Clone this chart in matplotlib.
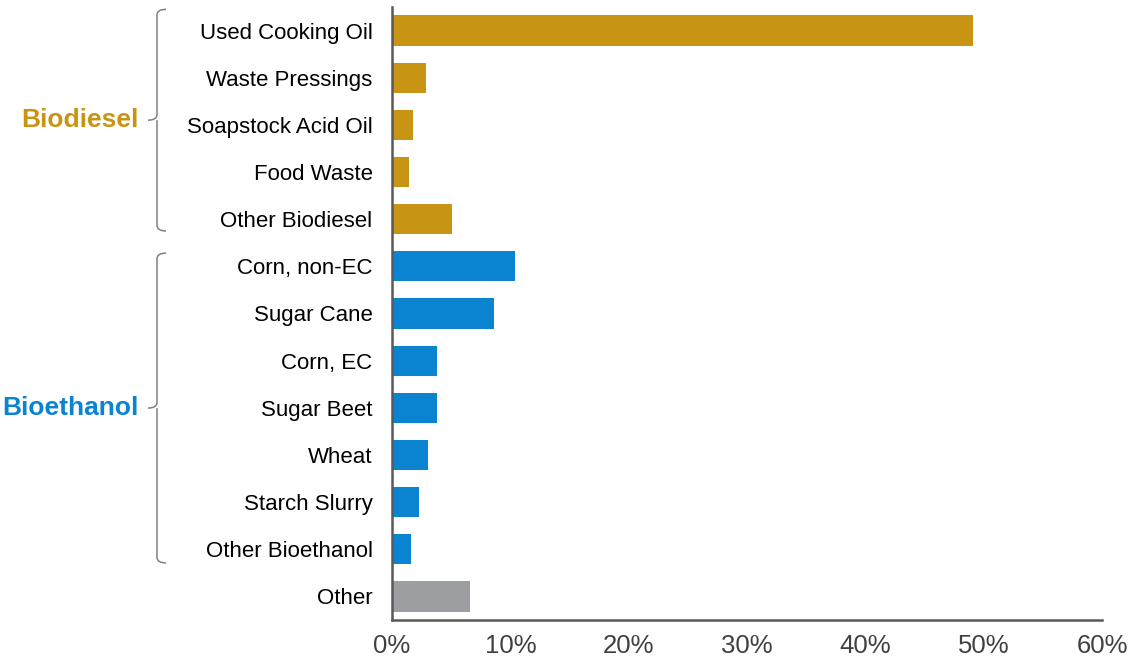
import matplotlib
matplotlib.use("Agg")
import matplotlib.pyplot as plt
import matplotlib.transforms as mtransforms
from matplotlib.path import Path
from matplotlib.patches import PathPatch

# data, top to bottom
categories = ["Used Cooking Oil", "Waste Pressings", "Soapstock Acid Oil", "Food Waste",
              "Other Biodiesel", "Corn, non-EC", "Sugar Cane", "Corn, EC", "Sugar Beet",
              "Wheat", "Starch Slurry", "Other Bioethanol", "Other"]
shares = [49.1, 2.9, 1.8, 1.4, 5.1, 10.4, 8.6, 3.8, 3.8, 3.0, 2.3, 1.6, 6.6]
groups = ["Biodiesel"] * 5 + ["Bioethanol"] * 7 + ["Other"]
xticks = [0, 10, 20, 30, 40, 50, 60]

colors = {"Biodiesel": "#C89414", "Bioethanol": "#0A84D0", "Other": "#9D9EA2"}

fig = plt.figure(figsize=(11.28, 6.65), dpi=100)
ax = fig.add_axes([392 / 1128, 45 / 665, 710 / 1128, 613 / 665])

y = list(range(len(categories)))
ax.barh(y, shares, height=0.64, color=[colors[g] for g in groups])

ax.set_xlim(0, 60)
ax.set_ylim(12.5, -0.5)
ax.set_yticks(y)
ax.set_yticklabels(categories, fontsize=16, family=["Liberation Sans", "DejaVu Sans"])
ax.set_xticks(xticks)
ax.set_xticklabels([f"{t}%" for t in xticks], fontsize=18.5, color="#404040",
                   family=["Liberation Sans", "DejaVu Sans"])
ax.tick_params(axis="y", length=0, pad=14)
ax.tick_params(axis="x", length=0, pad=10)

for s in ["top", "right"]:
    ax.spines[s].set_visible(False)
for s in ["left", "bottom"]:
    ax.spines[s].set_color("#595959")
    ax.spines[s].set_linewidth(1.8)

# group brackets: x in figure fraction, y in data
trans = mtransforms.blended_transform_factory(fig.transFigure, ax.transData)
W = 1128.0


def bracket(top, bottom, label, color):
    xv = 157 / W
    xr = 166 / W
    xl = 148 / W
    mid = (top + bottom) / 2
    c = 0.12
    verts = [(xr, top), (xv, top), (xv, top + c),
             (xv, mid - c), (xv, mid), (xl, mid),
             (xv, mid), (xv, mid + c),
             (xv, bottom - c), (xv, bottom), (xr, bottom)]
    codes = [Path.MOVETO, Path.CURVE3, Path.CURVE3,
             Path.LINETO, Path.CURVE3, Path.CURVE3,
             Path.MOVETO, Path.CURVE3,
             Path.LINETO, Path.CURVE3, Path.CURVE3]
    ax.add_patch(PathPatch(Path(verts, codes), transform=trans, fill=False,
                           edgecolor="#808080", linewidth=1.1, clip_on=False))
    fig.text(139 / W, mid, label, transform=trans, ha="right", va="center",
             fontsize=19, fontweight="bold", color=color,
             family=["Liberation Sans", "DejaVu Sans"])


bracket(-0.45, 4.25, "Biodiesel", colors["Biodiesel"])
bracket(4.72, 11.29, "Bioethanol", colors["Bioethanol"])

fig.savefig("out.png", dpi=100)
